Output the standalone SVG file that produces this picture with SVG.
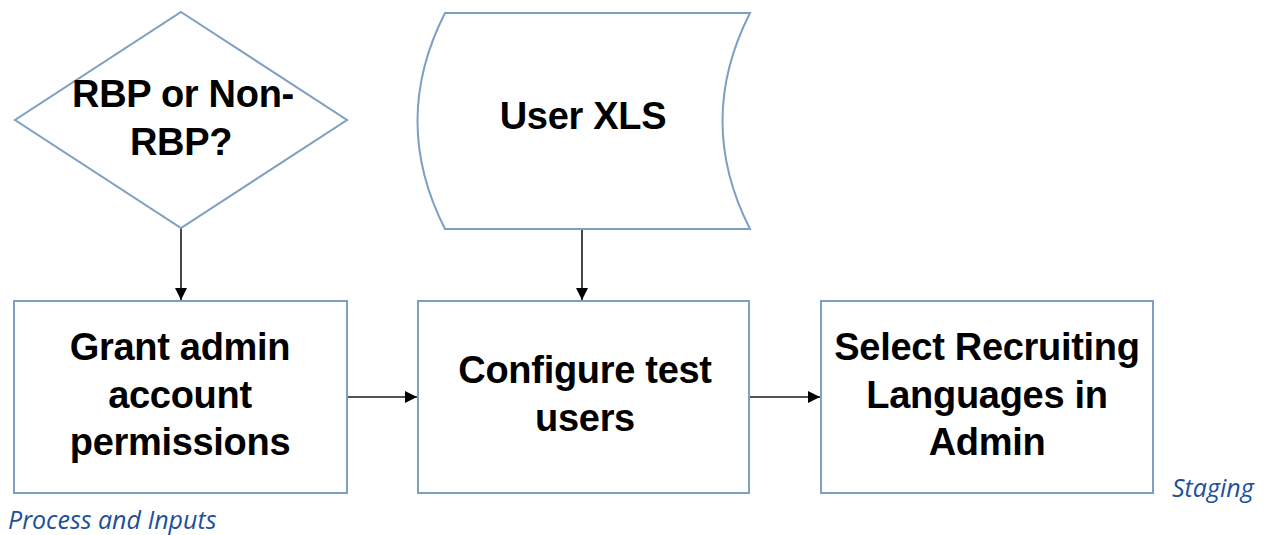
<svg xmlns="http://www.w3.org/2000/svg" width="1271" height="535" viewBox="0 0 1271 535">
  <style>
    .shape { fill: #ffffff; stroke: #7e9fc3; stroke-width: 2; }
    .label { font-family: "Liberation Sans", Arial, sans-serif; font-weight: bold; font-size: 38px; fill: #000000; text-anchor: middle; letter-spacing: -0.3px; }
    .link { stroke: #1a1a1a; stroke-width: 1.6; fill: none; marker-end: url(#arrow); }
    .caption { font-family: "Open Sans", "Noto Sans", sans-serif; font-style: italic; font-size: 25px; fill: #1d4f9a; }
  </style>
  <defs>
    <marker id="arrow" viewBox="0 0 12 12" refX="12" refY="6" markerWidth="12" markerHeight="12" markerUnits="userSpaceOnUse" orient="auto">
      <path d="M0,0 L12,6 L0,12 Z" fill="#000000"/>
    </marker>
  </defs>

  <rect width="1271" height="535" fill="#ffffff"/>

  <g id="connectors">
    <line class="link" x1="181" y1="228" x2="181" y2="300"/>
    <line class="link" x1="582" y1="229" x2="582" y2="300"/>
    <line class="link" x1="347" y1="397" x2="417" y2="397"/>
    <line class="link" x1="749" y1="397" x2="820" y2="397"/>
  </g>

  <g id="decision">
    <polygon class="shape" points="181,12 347,120 181,228 15,120"/>
    <text class="label" x="183" y="107">RBP or Non-</text>
    <text class="label" x="181" y="155">RBP?</text>
  </g>

  <g id="user-xls">
    <path class="shape" d="M445,13 L750,13 Q695,121 750,229 L445,229 Q390,121 445,13 Z"/>
    <text class="label" x="583" y="129">User XLS</text>
  </g>

  <g id="grant-admin">
    <rect class="shape" x="14" y="301" width="333" height="192"/>
    <text class="label" x="180" y="360">Grant admin</text>
    <text class="label" x="180" y="408">account</text>
    <text class="label" x="180" y="455">permissions</text>
  </g>

  <g id="configure-users">
    <rect class="shape" x="418" y="301" width="331" height="192"/>
    <text class="label" x="585" y="383">Configure test</text>
    <text class="label" x="585" y="431">users</text>
  </g>

  <g id="select-languages">
    <rect class="shape" x="821" y="301" width="332" height="192"/>
    <text class="label" x="987" y="360">Select Recruiting</text>
    <text class="label" x="987" y="408">Languages in</text>
    <text class="label" x="987" y="455">Admin</text>
  </g>

  <text class="caption" x="1172" y="497">Staging</text>
  <text class="caption" x="8" y="529">Process and Inputs</text>
</svg>
